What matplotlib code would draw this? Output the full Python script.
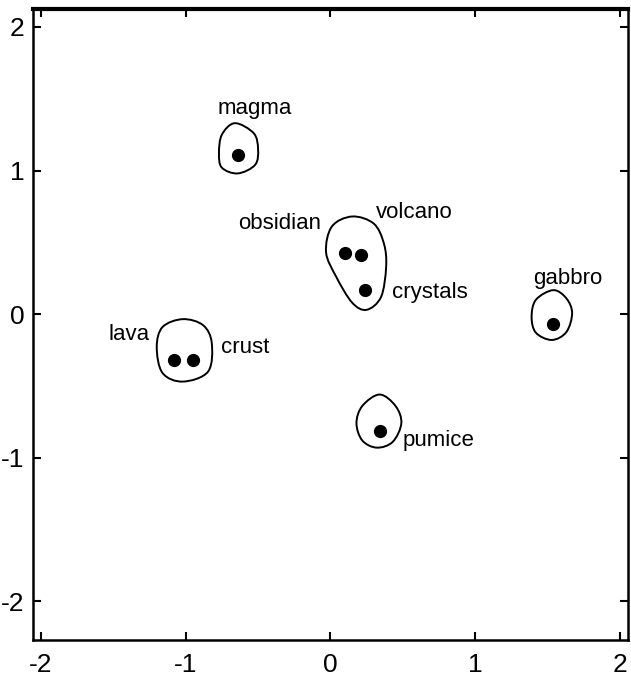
import numpy as np
import matplotlib
matplotlib.use("Agg")
import matplotlib.pyplot as plt
from matplotlib.path import Path
from matplotlib.patches import PathPatch

plt.rcParams['font.family'] = ['Liberation Sans', 'DejaVu Sans']
plt.rcParams['axes.unicode_minus'] = False

# word positions
words = ['magma', 'obsidian', 'volcano', 'crystals', 'lava', 'crust', 'pumice', 'gabbro']
x = [-0.64, 0.10, 0.21, 0.24, -1.08, -0.95, 0.34, 1.54]
y = [1.11, 0.425, 0.41, 0.17, -0.32, -0.32, -0.815, -0.07]

# label anchor positions
lab_x = [-0.52, -0.35, 0.58, 0.69, -1.39, -0.59, 0.75, 1.64]
lab_y = [1.43, 0.63, 0.71, 0.15, -0.14, -0.23, -0.88, 0.25]

# hand drawn cluster outlines
magma_x = [-0.66, -0.53, -0.50, -0.52, -0.64, -0.75, -0.77, -0.75]
magma_y = [1.33, 1.26, 1.15, 1.04, 0.98, 1.02, 1.12, 1.25]
center_x = [0.15, 0.30, 0.37, 0.385, 0.35, 0.25, 0.15, 0.04, -0.03, 0.01]
center_y = [0.68, 0.63, 0.49, 0.33, 0.12, 0.03, 0.08, 0.26, 0.43, 0.61]
lava_x = [-1.02, -0.88, -0.82, -0.845, -1.02, -1.16, -1.20, -1.16]
lava_y = [-0.035, -0.077, -0.20, -0.40, -0.47, -0.41, -0.23, -0.09]
pumice_x = [0.34, 0.45, 0.49, 0.43, 0.32, 0.22, 0.18, 0.22]
pumice_y = [-0.56, -0.64, -0.76, -0.89, -0.93, -0.88, -0.76, -0.64]
gabbro_x = [1.54, 1.63, 1.67, 1.63, 1.53, 1.42, 1.39, 1.42]
gabbro_y = [0.167, 0.11, 0.007, -0.125, -0.18, -0.13, -0.02, 0.10]

outlines = [(magma_x, magma_y), (center_x, center_y), (lava_x, lava_y),
            (pumice_x, pumice_y), (gabbro_x, gabbro_y)]


def smooth_closed(px, py):
    # closed catmull-rom as bezier path
    p = np.column_stack([px, py])
    n = len(p)
    verts = [p[0]]
    codes = [Path.MOVETO]
    for i in range(n):
        p0, p1, p2, p3 = p[i - 1], p[i], p[(i + 1) % n], p[(i + 2) % n]
        c1 = p1 + (p2 - p0) / 6
        c2 = p2 - (p3 - p1) / 6
        verts += [c1, c2, p2]
        codes += [Path.CURVE4] * 3
    return Path(verts, codes)


fig = plt.figure(figsize=(6.31, 6.79), dpi=100)
ax = fig.add_axes([0.0523, 0.0574, 0.9427, 0.9293])

for ox, oy in outlines:
    ax.add_patch(PathPatch(smooth_closed(ox, oy), fill=False, lw=1.4, color='black'))

ax.plot(x, y, 'o', color='black', markersize=8.5)

for w, tx, ty in zip(words, lab_x, lab_y):
    ax.text(tx, ty, w, ha='center', va='center', fontsize=16)

ax.set_xlim(-2.055, 2.055)
ax.set_ylim(-2.27, 2.125)
ax.set_xticks([-2, -1, 0, 1, 2])
ax.set_yticks([-2, -1, 0, 1, 2])
ax.tick_params(direction='in', length=6, width=1.5, top=True, right=True,
               labelsize=19, pad=6)
ax.tick_params(axis='x', pad=9)
for s in ax.spines.values():
    s.set_linewidth(1.8)
ax.spines['top'].set_linewidth(3)

fig.savefig('out.png', dpi=100)
